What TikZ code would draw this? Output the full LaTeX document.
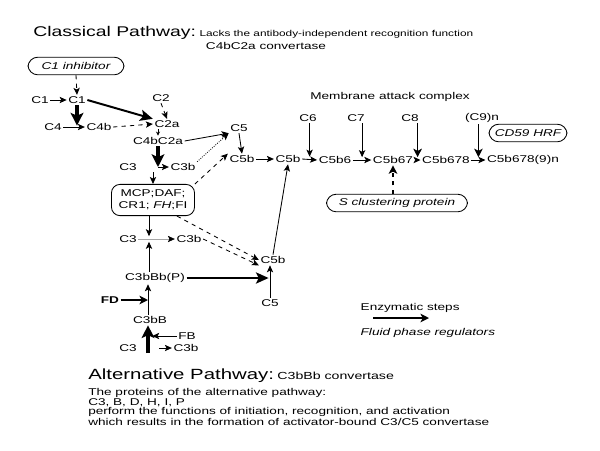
\documentclass[tikz,border=0pt]{standalone}
\usepackage{fontspec}
\setmainfont[FakeStretch=1.38]{Liberation Sans}
\usetikzlibrary{arrows.meta}

\begin{document}
\begin{tikzpicture}[x=0.025cm, y=-0.025cm,
    lbl/.style={font=\fontsize{7}{8}\selectfont, inner sep=1pt},
    reg/.style={draw, rounded corners=7pt, line width=0.6pt, minimum height=0.44cm,
        inner sep=1pt, font=\fontsize{7}{8}\selectfont\itshape},
    arr/.style={-{Stealth[length=5pt, width=4.5pt, inset=1.2pt]}, line width=0.6pt},
    arrb/.style={-{Stealth[length=6pt, width=6pt, inset=1.5pt]}, line width=1.2pt},
    thk/.style={-{Stealth[length=9pt, width=9pt, inset=2pt]}, line width=2.2pt},
    thkb/.style={-{Stealth[length=9pt, width=8pt, inset=2pt]}, line width=1.4pt}]

    \useasboundingbox (0,0) rectangle (600,450);

    % Headings
    \node[anchor=base west, inner sep=0, font=\fontsize{10}{12}\selectfont] (classical) at (33,36) {Classical Pathway:};
    \node[anchor=base west, inner sep=0, font=\fontsize{6.1}{7}\selectfont] (lacks) at ([xshift=2pt]classical.base east) {Lacks the antibody-independent recognition function};
    \node[lbl] (conv1) at (266,46) {C4bC2a convertase};

    % Classical pathway
    \node[reg, minimum width=2.4cm] (c1inh) at (76,66) {C1 inhibitor};
    \node[lbl] (c1in) at (40,100) {C1};
    \node[lbl] (c1) at (77,100) {C1};
    \node[lbl] (c4) at (53,127) {C4};
    \node[lbl] (c4b) at (99,127) {C4b};
    \node[lbl] (c2) at (161,98) {C2};
    \node[lbl] (c2a) at (167,124) {C2a};
    \node[lbl] (c4bc2a) at (158,141) {C4bC2a};
    \node[lbl] (c3x) at (128,167) {C3};
    \node[lbl] (c3bx) at (183,167) {C3b};
    \node[draw, rounded corners=6pt, line width=0.6pt, minimum width=2.075cm, minimum height=0.78cm,
        inner sep=1pt, align=center, font=\fontsize{7}{8.5}\selectfont] (mcp) at (153,200) {MCP;DAF;\\CR1; \textit{FH};FI};

    \draw[arr, dashed] (c1inh.south) -- (c1.north);
    \draw[arr] (c1in.east) -- (c1.west);
    \draw[thkb] (c1.east) -- (c2a.north west);
    \draw[thk] (c1.south) -- ([yshift=1pt]c1.south |- c4b);
    \draw[arr] (c4.east) -- (c4b.west);
    \draw[arr, dashed] (c4b.east) -- (c2a.west);
    \draw[arr, dashed] (c2.south) -- (c2a.north);
    \draw[-{Stealth[length=3pt, width=3pt]}, line width=0.5pt, densely dashed] (c2a.south -| c4bc2a) -- (c4bc2a.north);
    \draw[thk] (c4bc2a.south) -- (c4bc2a.south |- c3x);
    \draw[arr] (c4bc2a.south |- c3x) -- (c3bx.west);
    \draw[arr] (c3x.south -| mcp) -- (mcp.north);

    % C5 convertase and C5b
    \node[lbl] (c5) at (239,128) {C5};
    \node[lbl] (c5b1) at (242,159) {C5b};
    \node[lbl] (c5b2) at (288,159) {C5b};
    \draw[arr] (c4bc2a.east) -- (c5.south west);
    \draw[arr, densely dotted] (c3bx.north east) -- (c5.south west);
    \draw[arr, dashed] (mcp.north east) -- (c5b1.north west);
    \draw[arr] (c5.south) -- (c5b1.north);
    \draw[arr] (c5b1.east) -- (c5b2.west);

    % Membrane attack complex
    \node[lbl] (mac) at (390,97) {Membrane attack complex};
    \node[lbl] (c5b6) at (335,160) {C5b6};
    \node[lbl] (c5b67) at (393,160) {C5b67};
    \node[lbl] (c5b678) at (446,160) {C5b678};
    \node[lbl] (c5b6789) at (523,160) {C5b678(9)n};
    \node[lbl] (c6) at (308,118) {C6};
    \node[lbl] (c7) at (356,118) {C7};
    \node[lbl] (c8) at (410,118) {C8};
    \node[lbl] (c9) at (482,118) {(C9)n};
    \node[reg, minimum width=1.95cm] (cd59) at (528,133) {CD59 HRF};
    \node[reg, minimum width=3.525cm] (sclu) at (397,203) {S clustering protein};

    \draw[arr] (c5b2.east) -- coordinate (m6) (c5b6.west);
    \draw[arr] (c5b6.east) -- coordinate (m7) (c5b67.west);
    \draw[arr] (c5b67.east) -- coordinate (m8) (c5b678.west);
    \draw[arr] (c5b678.east) -- coordinate (m9) (c5b6789.west);
    \draw[arr, shorten >=2pt] (m6 |- c6.south) -- (m6);
    \draw[arr, shorten >=2pt] (m7 |- c7.south) -- (m7);
    \draw[arrb, shorten >=2pt] (m8 |- c8.south) -- (m8);
    \draw[arrb, shorten >=2pt] (m9 |- c9.south) -- (m9);
    \draw[arrb, dashed] (sclu.north -| c5b67) -- (c5b67.south);

    % Alternative pathway
    \coordinate (v3) at (149,239);
    \coordinate (v5) at (148,353);
    \node[lbl] (c3y) at (128,239) {C3};
    \node[lbl] (c3by) at (189,239) {C3b};
    \node[lbl] (c3bbbp) at (155,278) {C3bBb(P)};
    \node[lbl] (c5bx) at (273,260) {C5b};
    \node[lbl] (c5x) at (270,303) {C5};
    \node[lbl, font=\fontsize{7}{8}\selectfont\bfseries] (fd) at (110,300) {FD};
    \node[lbl] (c3bB) at (150,320) {C3bB};
    \node[lbl] (fb) at (187,336) {FB};
    \node[lbl] (c3z) at (128,348) {C3};
    \node[lbl] (c3bz) at (186,348) {C3b};

    \draw[-{Stealth[length=5pt, width=4.5pt, inset=1.2pt, black]}, draw=gray!70, line width=0.5pt] (c3y.east) -- (c3by.west);
    \draw[arr] (mcp.south -| v3) -- ([yshift=2pt]v3);
    \draw[arr] (c3bbbp.north -| v3) -- ([yshift=-2pt]v3);
    \draw[arr, dashed] ([xshift=17pt]mcp.south) -- (c5bx.west);
    \draw[arr, dashed] (c3by.east) -- (c5bx.south west);
    \draw[arr] (c5bx.north) -- (c5b2.south);
    \draw[arr] (c5x.north) -- (c5x.north |- c5bx.south);
    \draw[thkb, shorten >=1pt] (c3bbbp.east) -- (c5x.north |- c3bbbp);
    \draw[arr] (c3bB.north -| v5) -- (c3bbbp.south -| v5);
    \draw[arrb] (fd.east) -- (fd.east -| v5);
    \draw[thk] (v5) -- (v5 |- c3bB.south);
    \draw[arr, shorten >=3pt] (fb.west) -- (fb.west -| v5);
    \draw[arr] ([xshift=8pt]v5 |- c3bz.west) -- (c3bz.west);

    % Legend
    \node[lbl, anchor=west] (enz) at (359,308) {Enzymatic steps};
    \coordinate (enzl) at (373,318);
    \coordinate (enzr) at (429,318);
    \draw[arrb] (enzl) -- (enzr);
    \node[lbl, anchor=west, font=\fontsize{7}{8}\selectfont\itshape] (fluid) at (359,333) {Fluid phase regulators};

    % Alternative pathway text
    \node[anchor=base west, inner sep=0, font=\fontsize{10.5}{12}\selectfont] (alt) at (88,379) {Alternative Pathway:};
    \node[anchor=base west, inner sep=0, font=\fontsize{7.3}{8}\selectfont] (conv2) at ([xshift=2pt]alt.base east) {C3bBb convertase};
    \node[anchor=north west, inner sep=0, align=left, font=\fontsize{7}{6.3}\selectfont] (prot) at (88,388)
        {The proteins of the alternative pathway:\\
         C3, B, D, H, I, P\\
         perform the functions of initiation, recognition, and activation\\
         which results in the formation of activator-bound C3/C5 convertase};
\end{tikzpicture}
\end{document}
